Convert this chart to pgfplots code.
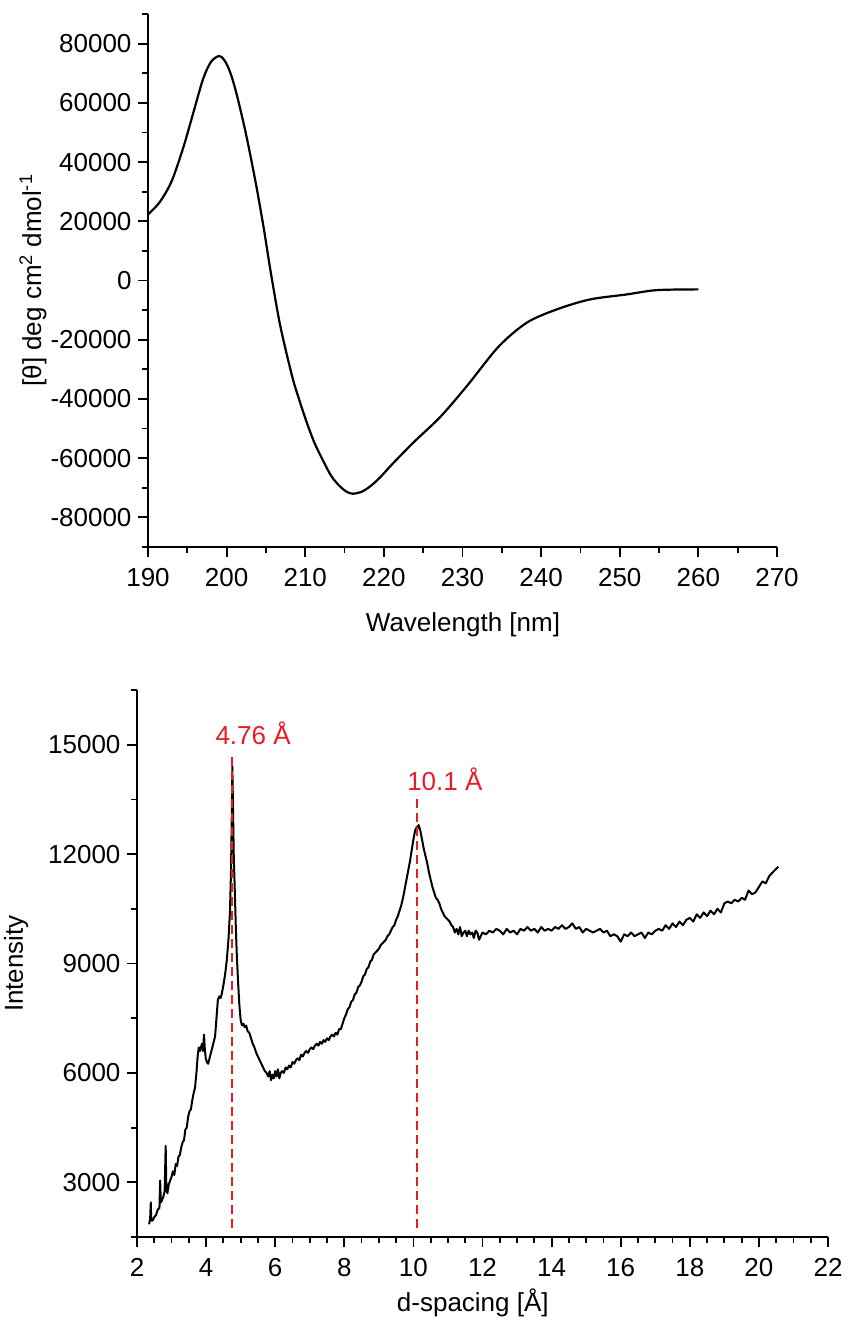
\documentclass[border=0pt]{standalone}
\usepackage{fontspec}
\setmainfont{Liberation Sans}
\usepackage{pgfplots}
\pgfplotsset{compat=1.18}
\definecolor{annred}{RGB}{232,28,36}
\pgfplotstableread{
x y
190 22300
191.5 26500
193 33500
194.5 45000
195.8 57000
197 68000
198 73800
199 75800
199.6 74800
200.2 72000
200.8 67500
201.5 60500
202.5 49000
203.7 33000
204.7 18000
205.6 3000
206.8 -15000
208.3 -32000
209.2 -40000
210.2 -48000
211.2 -55000
212.3 -61000
213.3 -66000
214.4 -69500
215.3 -71400
216.1 -72000
217.3 -71200
218.5 -69000
219.7 -66000
221 -62200
223.8 -54600
227.2 -46000
230.6 -35500
234.6 -22300
238.2 -14200
242 -9750
246.2 -6400
250.9 -4700
254.7 -3250
260 -3000
}\cddata
\pgfplotstableread{
x y
2.35 1850
2.38 2000
2.40 2450
2.41 1950
2.45 1950
2.50 2050
2.55 2100
2.60 2250
2.65 2300
2.67 3050
2.69 2450
2.72 2500
2.76 2600
2.80 2750
2.83 4000
2.85 2800
2.88 2700
2.92 2950
2.96 3050
3.00 3150
3.04 3300
3.08 3200
3.12 3500
3.16 3450
3.20 3700
3.24 3750
3.28 3950
3.32 4100
3.36 4150
3.40 4450
3.44 4500
3.48 4800
3.52 4950
3.56 5000
3.60 5250
3.64 5450
3.68 5600
3.72 6000
3.76 6500
3.79 6700
3.82 6600
3.85 6700
3.88 6800
3.91 6600
3.94 7050
3.96 6700
3.99 6400
4.02 6300
4.06 6250
4.10 6400
4.14 6550
4.18 6700
4.22 6850
4.26 7000
4.30 7500
4.34 8000
4.38 8100
4.42 8050
4.46 8200
4.50 8400
4.55 8700
4.60 9100
4.65 9700
4.69 10400
4.72 11500
4.74 12800
4.76 14400
4.78 13200
4.80 12000
4.83 11000
4.86 10000
4.89 9200
4.92 8600
4.96 7900
5.00 7450
5.04 7300
5.08 7350
5.12 7250
5.16 7300
5.20 7150
5.25 7100
5.30 6950
5.35 6800
5.40 6700
5.45 6550
5.50 6450
5.55 6350
5.60 6250
5.65 6150
5.70 6050
5.75 6000
5.80 5900
5.84 6050
5.88 5800
5.92 5950
5.96 5850
6.00 6050
6.04 5900
6.08 6100
6.12 5850
6.16 6000
6.20 6050
6.25 6000
6.30 6150
6.35 6100
6.40 6200
6.45 6150
6.50 6300
6.55 6250
6.60 6350
6.65 6400
6.70 6350
6.75 6500
6.80 6450
6.85 6550
6.90 6600
6.95 6550
7.00 6650
7.05 6700
7.10 6650
7.15 6750
7.20 6800
7.25 6750
7.30 6850
7.35 6800
7.40 6900
7.45 6850
7.50 6950
7.55 6900
7.60 7000
7.65 7050
7.70 7000
7.75 7100
7.80 7050
7.85 7200
7.90 7200
7.95 7350
8.00 7500
8.05 7600
8.10 7750
8.15 7800
8.20 7950
8.25 8000
8.30 8150
8.35 8200
8.40 8350
8.45 8400
8.50 8500
8.55 8650
8.60 8700
8.65 8850
8.70 8900
8.75 9050
8.80 9100
8.85 9250
8.90 9300
8.95 9350
9.00 9400
9.05 9500
9.10 9550
9.15 9600
9.20 9650
9.25 9750
9.30 9800
9.35 9900
9.40 10000
9.45 10050
9.50 10200
9.55 10300
9.60 10450
9.65 10600
9.70 10800
9.75 11050
9.80 11300
9.85 11550
9.90 11800
9.95 12100
10.00 12400
10.05 12650
10.10 12750
10.12 12700
10.15 12800
10.20 12650
10.25 12400
10.30 12150
10.35 11950
10.40 11750
10.45 11500
10.50 11300
10.55 11100
10.60 10950
10.65 10800
10.70 10750
10.75 10650
10.80 10500
10.85 10400
10.90 10300
10.95 10250
11.00 10200
11.05 10150
11.10 10050
11.15 10000
11.20 9850
11.25 9950
11.30 9800
11.35 10000
11.40 9750
11.45 9850
11.50 9900
11.55 9750
11.60 9900
11.65 9800
11.70 9850
11.75 9700
11.80 9900
11.85 9850
11.90 9650
11.95 9750
12.00 9850
12.10 9800
12.20 9900
12.30 9850
12.40 9950
12.50 9900
12.60 9800
12.70 9950
12.80 9850
12.90 9900
13.00 9800
13.10 9950
13.20 9900
13.30 10000
13.40 9900
13.50 9950
13.60 9850
13.70 10000
13.80 9900
13.90 9950
14.00 9900
14.10 10000
14.20 9950
14.30 10050
14.40 9950
14.50 10000
14.60 10100
14.70 9950
14.80 10000
14.90 9850
15.00 9950
15.10 9900
15.20 9850
15.30 9900
15.40 9950
15.50 9850
15.60 9900
15.70 9750
15.80 9800
15.90 9750
16.00 9600
16.10 9800
16.20 9750
16.30 9850
16.40 9750
16.50 9800
16.60 9850
16.70 9700
16.80 9850
16.90 9800
17.00 9900
17.10 9950
17.20 9900
17.30 10050
17.40 9950
17.50 10100
17.60 10000
17.70 10150
17.80 10050
17.90 10200
18.00 10250
18.10 10150
18.20 10350
18.30 10250
18.40 10400
18.50 10300
18.60 10450
18.70 10350
18.80 10500
18.90 10400
19.00 10650
19.10 10700
19.20 10650
19.30 10750
19.40 10700
19.50 10800
19.60 10750
19.70 11000
19.80 10900
19.90 10950
20.00 11100
20.10 11250
20.20 11200
20.30 11400
20.40 11500
20.50 11600
20.56 11650
}\xrddata
\pgfplotsset{
  myax/.style={
    scale only axis, axis lines=left, axis line style={-, line width=1.8pt},
    scaled x ticks=false, scaled y ticks=false,
    tick align=outside, major tick length=10pt, minor tick length=6pt,
    every tick/.style={line width=1.8pt, black},
    tick label style={font=\fontsize{26}{31}\selectfont},
    label style={font=\fontsize{26}{31}\selectfont},
    xticklabel style={yshift=-8pt},
    yticklabel style={xshift=-3pt},
    clip=false,
  }
}
\begin{document}
\begin{tikzpicture}
\path[use as bounding box] (0pt,0pt) rectangle (846pt,-1319pt);
\begin{axis}[myax, at={(148pt,-547pt)}, anchor=south west,
  width=629pt, height=533pt,
  xmin=190, xmax=270, ymin=-90000, ymax=90000,
  xtick={190,200,210,220,230,240,250,260,270},
  xticklabels={190,200,210,220,230,240,250,260,270},
  minor xtick={195,205,215,225,235,245,255,265},
  ytick={-80000,-60000,-40000,-20000,0,20000,40000,60000,80000},
  yticklabels={-80000,-60000,-40000,-20000,0,20000,40000,60000,80000},
  minor ytick={-90000,-70000,-50000,-30000,-10000,10000,30000,50000,70000,90000},
  xlabel={Wavelength [nm]},
  ylabel={[θ] deg cm\textsuperscript{2} dmol\textsuperscript{-1}},
  xlabel style={at={(axis description cs:0.5008,-0.1463)}, anchor=center},
  ylabel style={at={(axis description cs:-0.183,0.5)}, anchor=center},
]
\addplot[black, line width=2.2pt, smooth, tension=0.5] table[x=x,y=y] {\cddata};
\end{axis}
\begin{axis}[myax, at={(137pt,-1237pt)}, anchor=south west,
  width=691pt, height=547pt,
  xmin=2, xmax=22, ymin=1500, ymax=16500,
  xtick={2,4,6,8,10,12,14,16,18,20,22},
  xticklabels={2,4,6,8,10,12,14,16,18,20,22},
  minor x tick num=3,
  ytick={3000,6000,9000,12000,15000},
  yticklabels={3000,6000,9000,12000,15000},
  minor ytick={1500,4500,7500,10500,13500,16500},
  xlabel={d-spacing [Å]},
  ylabel={Intensity},
  xlabel style={at={(axis description cs:0.486,-0.1207)}, anchor=center},
  ylabel style={at={(axis description cs:-0.175,0.5)}, anchor=center},
]
\addplot[black, line width=2pt, line join=round] table[x=x,y=y] {\xrddata};
\addplot[annred, line width=2pt, dash pattern=on 9pt off 5pt] coordinates {(4.76,1750) (4.76,14750)};
\addplot[annred, line width=2pt, dash pattern=on 9pt off 5pt] coordinates {(10.11,1750) (10.11,13500)};
\node[annred, font=\fontsize{26}{31}\selectfont, anchor=center] at (axis cs:5.36,15300) {4.76 Å};
\node[annred, font=\fontsize{26}{31}\selectfont, anchor=center] at (axis cs:10.91,14065) {10.1 Å};
\end{axis}
\end{tikzpicture}
\end{document}
